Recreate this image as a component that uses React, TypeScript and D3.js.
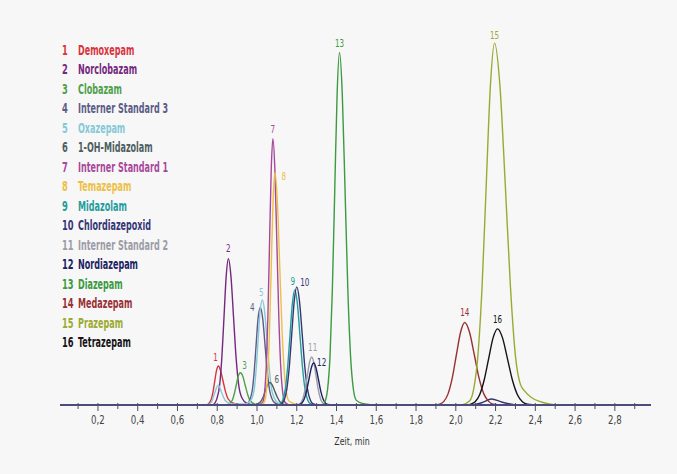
import React from "react";
import * as d3 from "d3";

// compound names, legend order
const names = [
  "Demoxepam", "Norclobazam", "Clobazam", "Interner Standard 3", "Oxazepam",
  "1-OH-Midazolam", "Interner Standard 1", "Temazepam", "Midazolam", "Chlordiazepoxid",
  "Interner Standard 2", "Nordiazepam", "Diazepam", "Medazepam", "Prazepam", "Tetrazepam",
];
const colors = [
  "#d8343c", "#74287e", "#4ea04a", "#5c5c86", "#86c8d8",
  "#4e5e60", "#a8479a", "#ecc044", "#1f9c9c", "#363676",
  "#9c9ca6", "#1c2262", "#3c9a40", "#983034", "#9aaa30", "#141414",
];

// retention time (min) / signal pairs
const demoxepam = [[0.75, 0], [0.769, 1.4], [0.778, 3.3], [0.787, 6.2], [0.796, 9.1], [0.806, 10.4], [0.817, 9.1], [0.83, 6.2], [0.842, 3.5], [0.855, 1.6], [0.88, 0.5], [0.93, 0]];
const norclobazam = [[0.78, 0], [0.797, 1.5], [0.812, 5.3], [0.823, 12.5], [0.834, 23.4], [0.845, 34.3], [0.856, 39], [0.869, 34.3], [0.882, 23.4], [0.895, 12.5], [0.908, 5.3], [0.925, 1.8], [0.95, 0.4], [0.98, 0]];
const clobazam = [[0.85, 0], [0.875, 1.2], [0.885, 2.8], [0.895, 5.2], [0.905, 7.6], [0.917, 8.6], [0.929, 7.6], [0.941, 5.2], [0.953, 2.8], [0.965, 1.2], [0.99, 0.2], [1.02, 0]];
const internerStandard3 = [[0.95, 0], [0.975, 3.5], [0.985, 8.3], [0.995, 15.6], [1.005, 22.9], [1.017, 26], [1.029, 22.9], [1.041, 15.6], [1.053, 8.3], [1.065, 3.5], [1.085, 0.8], [1.11, 0]];
const oxazepam = [[0.75, 0], [0.77, 0.7], [0.787, 3.2], [0.805, 5.3], [0.823, 3.2], [0.84, 1.2], [0.87, 0.3], [0.94, 0.3], [0.965, 1], [0.985, 3.8], [0.995, 9], [1.005, 16.8], [1.015, 24.6], [1.027, 28], [1.039, 24.6], [1.051, 16.8], [1.063, 9], [1.075, 3.8], [1.1, 0.8], [1.13, 0]];
const ohMidazolam = [[0.99, 0], [1.017, 0.8], [1.03, 2], [1.041, 3.6], [1.052, 5.3], [1.064, 6], [1.077, 5.3], [1.09, 3.6], [1.103, 2], [1.116, 0.8], [1.14, 0.1], [1.16, 0]];
const internerStandard1 = [[1.01, 0], [1.029, 0.8], [1.0375, 3.1], [1.046, 9.6], [1.0545, 23], [1.063, 43], [1.0715, 62.6], [1.08, 71], [1.09, 62.6], [1.1, 43], [1.11, 23], [1.12, 9.6], [1.13, 3.1], [1.14, 0.8], [1.16, 0]];
const temazepam = [[1.02, 0], [1.036, 0.7], [1.045, 2.7], [1.054, 8.4], [1.063, 20], [1.072, 37.6], [1.081, 54.7], [1.09, 62], [1.102, 54.7], [1.114, 37.6], [1.126, 20], [1.138, 8.4], [1.15, 2.7], [1.162, 1], [1.19, 0.3], [1.22, 0]];
const midazolam = [[1.11, 0], [1.118, 0.34], [1.13, 1.35], [1.142, 4.1], [1.154, 10], [1.166, 18.6], [1.178, 27.1], [1.19, 30.7], [1.203, 27.1], [1.216, 18.6], [1.229, 10], [1.242, 4.1], [1.255, 1.35], [1.268, 0.34], [1.3, 0]];
const chlordiazepoxid = [[1.12, 0], [1.125, 0.35], [1.1375, 1.39], [1.15, 4.25], [1.1625, 10.2], [1.175, 19.1], [1.1875, 27.8], [1.2, 31.5], [1.2135, 27.8], [1.227, 19.1], [1.2405, 10.2], [1.254, 4.25], [1.2675, 1.39], [1.281, 0.35], [1.31, 0], [2.08, 0], [2.13, 0.6], [2.18, 1.6], [2.23, 0.8], [2.3, 0]];
const internerStandard2 = [[1.2, 0], [1.209, 0.14], [1.22, 0.56], [1.231, 1.73], [1.242, 4.16], [1.253, 7.77], [1.264, 11.3], [1.275, 12.8], [1.286, 11.3], [1.297, 7.77], [1.308, 4.16], [1.319, 1.73], [1.33, 0.56], [1.341, 0.14], [1.36, 0]];
const nordiazepam = [[1.205, 0], [1.213, 0.12], [1.225, 0.49], [1.237, 1.51], [1.249, 3.64], [1.261, 6.8], [1.273, 9.88], [1.285, 11.2], [1.297, 9.88], [1.309, 6.8], [1.321, 3.64], [1.333, 1.51], [1.345, 0.49], [1.357, 0.12], [1.38, 0]];
const diazepam = [[1.33, 0], [1.343, 1.03], [1.355, 4.14], [1.367, 12.7], [1.379, 30.6], [1.391, 57.1], [1.403, 82.9], [1.415, 94], [1.429, 82.9], [1.443, 57.1], [1.457, 30.6], [1.471, 12.7], [1.485, 4.14], [1.499, 1.3], [1.53, 0.4], [1.58, 0]];
const medazepam = [[1.89, 0], [1.919, 0.24], [1.94, 0.97], [1.961, 2.97], [1.982, 7.15], [2.003, 13.4], [2.024, 19.4], [2.045, 22], [2.069, 19.4], [2.093, 13.4], [2.117, 7.15], [2.141, 2.97], [2.165, 0.97], [2.189, 0.24], [2.24, 0]];
const prazepam = [[2.03, 0], [2.069, 1.06], [2.09, 4.25], [2.111, 13.1], [2.132, 31.4], [2.153, 58.6], [2.174, 85.1], [2.195, 96.5], [2.222, 85.1], [2.249, 58.6], [2.275, 31.4], [2.3, 13.1], [2.325, 5.5], [2.35, 3.5], [2.38, 2], [2.43, 0.8], [2.5, 0]];
const tetrazepam = [[2.06, 0], [2.075, 0.22], [2.0975, 0.89], [2.12, 2.74], [2.1425, 6.6], [2.165, 12.3], [2.1875, 17.9], [2.21, 20.3], [2.235, 17.9], [2.26, 12.3], [2.285, 6.6], [2.31, 2.74], [2.335, 0.89], [2.36, 0.22], [2.42, 0]];

const traces = [
  demoxepam, norclobazam, clobazam, internerStandard3, oxazepam, ohMidazolam,
  internerStandard1, temazepam, midazolam, chlordiazepoxid, internerStandard2,
  nordiazepam, diazepam, medazepam, prazepam, tetrazepam,
];

const majorTicks = [0.2, 0.4, 0.6, 0.8, 1.0, 1.2, 1.4, 1.6, 1.8, 2.0, 2.2, 2.4, 2.6, 2.8];
const minorTicks = [0.1, 0.3, 0.5, 0.7, 0.9, 1.1, 1.3, 1.5, 1.7, 1.9, 2.1, 2.3, 2.5, 2.7, 2.9];

// peak number placement relative to apex (px)
const labelShift = [
  [-3, -9], [0, -10], [4, -7], [-8, 0], [-1, -8], [7, -3], [0, -9], [9, 4],
  [-2, -8], [8, -4], [1, -10], [8, -1], [0, -9], [0, -10], [0, -8], [0, -9],
];

const W = 677;
const H = 474;
const cond = "'DejaVu Sans Condensed', 'DejaVu Sans', sans-serif";

// squeezed text, to get near the narrow face of the original
function NText(props: { x: number; y: number; sx: number; anchor?: string; children: any; fill?: string }) {
  return (
    <text
      transform={`translate(${props.x},${props.y}) scale(${props.sx},1)`}
      dy="0.35em"
      textAnchor={props.anchor || "start"}
      fill={props.fill}
    >
      {props.children}
    </text>
  );
}

export default function App() {
  const x = d3.scaleLinear().domain([0, 2.97]).range([58.2, 58.2 + 2.97 * 198.8]);
  const y = d3.scaleLinear().domain([0, 100]).range([405, 30]);
  const line = d3.line<number[]>()
    .x(d => x(d[0]))
    .y(d => y(d[1]))
    .curve(d3.curveMonotoneX);

  const apex = traces.map(tr => tr.reduce((a, b) => (b[1] > a[1] ? b : a)));

  return (
    <svg width={W} height={H} style={{ position: "absolute", left: 0, top: 0 }}>
      <rect width={W} height={H} fill="#f7f7f7" />

      {/* legend */}
      <g fontFamily={cond} fontSize={14} fontWeight="bold">
        {names.map((n, i) => (
          <g key={n} fill={colors[i]}>
            <NText x={62} y={50 + i * 19.5} sx={0.66}>{i + 1}</NText>
            <NText x={78} y={50 + i * 19.5} sx={0.64}>{n}</NText>
          </g>
        ))}
      </g>

      {/* traces */}
      <g fill="none" strokeWidth={1.4}>
        {traces.map((tr, i) => (
          <path key={i} d={line(tr) || ""} stroke={colors[i]} />
        ))}
      </g>

      {/* axis */}
      <line x1={60} x2={651} y1={y(0)} y2={y(0)} stroke="#4c4c7c" strokeWidth={2} />
      <g stroke="#4c4c66" strokeWidth={1}>
        {majorTicks.map(t => (
          <line key={"M" + t} x1={x(t)} x2={x(t)} y1={y(0) - 2} y2={y(0) + 6} />
        ))}
        {minorTicks.map(t => (
          <line key={"m" + t} x1={x(t)} x2={x(t)} y1={y(0) - 2} y2={y(0) + 4} />
        ))}
      </g>
      <g fontFamily={cond} fontSize={12} fill="#444">
        {majorTicks.map(t => (
          <NText key={t} x={x(t)} y={420} sx={0.8} anchor="middle">
            {d3.format(".1f")(t).replace(".", ",")}
          </NText>
        ))}
      </g>
      <g fontFamily={cond} fontSize={11} fill="#333">
        <NText x={352} y={441} sx={0.8} anchor="middle">Zeit, min</NText>
      </g>

      {/* peak numbers */}
      <g fontFamily={cond} fontSize={10}>
        {apex.map((p, i) => (
          <NText key={i} x={x(p[0]) + labelShift[i][0]} y={y(p[1]) + labelShift[i][1]} sx={0.8} anchor="middle" fill={colors[i]}>
            {i + 1}
          </NText>
        ))}
      </g>
    </svg>
  );
}
